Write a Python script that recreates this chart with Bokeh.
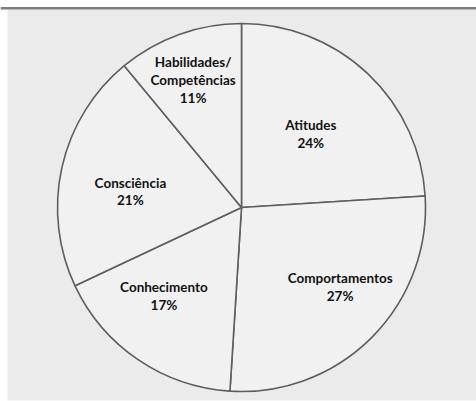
import math
from bokeh.plotting import figure
from bokeh.models import Range1d, ColumnDataSource
from bokeh.core.properties import value
from bokeh.embed import file_html
from bokeh.resources import INLINE

categories = ["Atitudes", "Comportamentos", "Conhecimento", "Consciência", "Habilidades/Competências"]
percents = [24, 27, 17, 21, 11]
label_texts = ["Atitudes\n24%", "Comportamentos\n27%", "Conhecimento\n17%", "Consciência\n21%",
               "Habilidades/\nCompetências\n11%"]
# label placement: fraction of radius and angular shift (deg) from the slice mid-angle
label_radius_frac = [0.55, 0.69, 0.64, 0.61, 0.74]
label_angle_shift = [0.0, 6.0, -7.0, 4.4, 1.0]

W, H = 476, 401
p = figure(width=W, height=H, output_backend="svg", toolbar_location=None,
           x_range=Range1d(0, W), y_range=Range1d(0, H),
           min_border_left=0, min_border_right=0, min_border_bottom=0, min_border_top=0)
p.axis.visible = False
p.grid.visible = False
p.outline_line_color = None
p.border_fill_color = "white"
p.background_fill_color = "white"

# panel background and top rule (page pixel coordinates, y flipped)
p.quad(left=7, right=W, top=H - 9, bottom=H - 400, fill_color="#ebebeb", line_color=None)
p.quad(left=0, right=W, top=H - 6.5, bottom=H - 9, fill_color="#7d7d7d", line_color=None)

cx, cy, r = 241, H - 207, 184

total = sum(percents)
starts, ends, lx, ly = [], [], [], []
a = math.pi / 2
for pc, fr, sh in zip(percents, label_radius_frac, label_angle_shift):
    sweep = 2 * math.pi * pc / total
    s, e = a, a - sweep
    starts.append(s)
    ends.append(e)
    mid = (s + e) / 2 + math.radians(sh)
    lx.append(cx + fr * r * math.cos(mid))
    ly.append(cy + fr * r * math.sin(mid))
    a = e

src = ColumnDataSource(dict(start=starts, end=ends, cat=categories, text=label_texts, lx=lx, ly=ly))
p.wedge(x=cx, y=cy, radius=r, start_angle="start", end_angle="end", direction="clock",
        source=src, fill_color="#f1f1f1", line_color="#5e5e5e", line_width=1.6)

p.text(x="lx", y="ly", text="text", source=src, text_align="center", text_baseline="middle",
       text_font=value("Lato"), text_font_style="bold", text_font_size="13.5px",
       text_color="#111111", text_line_height=1.12)

open("out.html", "w").write(file_html(p, INLINE))
